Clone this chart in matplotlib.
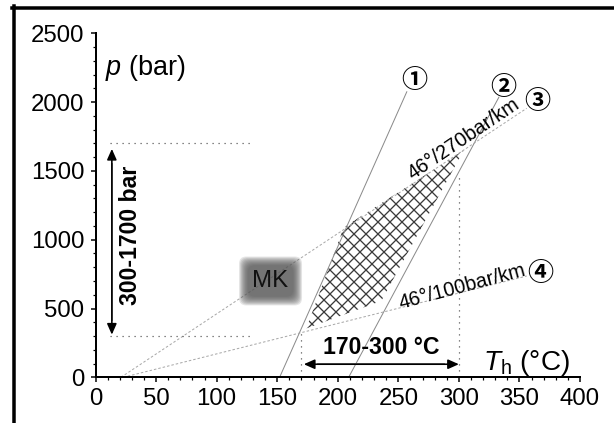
import matplotlib
matplotlib.use("Agg")
import matplotlib.pyplot as plt
from matplotlib.lines import Line2D
from matplotlib.ticker import MultipleLocator

plt.rcParams['font.family'] = ['Liberation Sans', 'DejaVu Sans']
plt.rcParams['mathtext.fontset'] = 'custom'
plt.rcParams['mathtext.rm'] = 'Liberation Sans'
plt.rcParams['mathtext.it'] = 'Liberation Sans:italic'
plt.rcParams['hatch.linewidth'] = 1.3

# isochores / gradients (T in degC, p in bar)
line1_T = [152, 257]
line1_p = [0, 2075]
line2_T = [209, 333]
line2_p = [0, 2035]
line3_T = [21, 356]   # 46 degC / 270 bar/km
line3_p = [0, 1955]
line4_T = [23, 356]   # 46 degC / 100 bar/km
line4_p = [0, 736]

# hatched field
hatch_T = [174, 205, 304, 236]
hatch_p = [355, 1090, 1650, 555]

# range markers
p_range = [300, 1700]
T_range = [170, 300]
labels_circ = ['①', '②', '③', '④']
circ_T = [263, 337, 365, 367]
circ_p = [2160, 2108, 2003, 752]

x_ticks = list(range(0, 401, 50))
y_ticks = list(range(0, 2501, 500))

fig = plt.figure(figsize=(614 / 72, 423 / 72), dpi=72)
ax = fig.add_axes([95.5 / 614, 45.7 / 423, 484.5 / 614, 344 / 423])

ax.plot(line1_T, line1_p, color='#8a8a8a', lw=1.0)
ax.plot(line2_T, line2_p, color='#8a8a8a', lw=1.0)
ax.plot(line3_T, line3_p, color='#a8a8a8', lw=1.0, dashes=(2.5, 2))
ax.plot(line4_T, line4_p, color='#a8a8a8', lw=1.0, dashes=(2.5, 2))

ax.fill(hatch_T, hatch_p, facecolor='none', edgecolor='#3a3a3a', hatch='xx', linewidth=0)

# dotted guide lines
dot = (0, (1, 4))
ax.plot([12, 130], [p_range[1]] * 2, color='#555555', lw=1.2, ls=dot)
ax.plot([12, 128], [p_range[0]] * 2, color='#555555', lw=1.2, ls=dot)
ax.plot([T_range[0]] * 2, [0, 330], color='#555555', lw=1.2, ls=dot)
ax.plot([T_range[1]] * 2, [0, 1480], color='#555555', lw=1.2, ls=dot)

# arrows
ax.annotate('', xy=(13.5, p_range[1] - 40), xytext=(13.5, p_range[0] + 10),
            arrowprops=dict(arrowstyle='<|-|>,head_length=0.9,head_width=0.4',
                            color='black', lw=1.6, shrinkA=0, shrinkB=0))
ax.plot([13.5, 13.5], [p_range[0] + 120, p_range[1] - 150], color='#808080', lw=1.8)
ax.annotate('', xy=(T_range[1], 95), xytext=(T_range[0] + 2, 95),
            arrowprops=dict(arrowstyle='<|-|>,head_length=0.9,head_width=0.4',
                            color='black', lw=1.6, shrinkA=0, shrinkB=0))
ax.plot([T_range[0] + 14, T_range[1] - 12], [95, 95], color='#808080', lw=1.8)

ax.text(29, 1030, '300-1700 bar', rotation=90, ha='center', va='center',
        fontsize=23, fontweight='bold')
ax.text(236, 172, '170-300 °C', ha='center', va='baseline', fontsize=23, fontweight='bold')

ax.text(304, 1730, '46°/270bar/km', rotation=34, ha='center', va='center',
        fontsize=20, rotation_mode='anchor')
ax.text(303, 660, '46°/100bar/km', rotation=15, ha='center', va='center',
        fontsize=20, rotation_mode='anchor')

for lab, t, p in zip(labels_circ, circ_T, circ_p):
    ax.text(t, p, lab, ha='center', va='center', fontsize=26, fontweight='bold',
            family=['Noto Sans CJK JP', 'DejaVu Sans'])

# blurred grey MK box
for i in range(10):
    ax.text(144.5, 700, 'MK', ha='center', va='center', fontsize=24, color='none',
            zorder=5,
            bbox=dict(boxstyle='round,pad=%.2f,rounding_size=0.3' % (0.56 - i * 0.04),
                      fc='#555555', ec='none', alpha=0.15))
ax.text(144.5, 700, 'MK', ha='center', va='center', fontsize=24, color='#111111', zorder=6)

ax.text(8, 2195, '$p$ (bar)', ha='left', va='baseline', fontsize=27)
ax.text(320, 55, r'$T_\mathrm{h}$ (°C)', ha='left', va='baseline', fontsize=28)

ax.set_xlim(0, 400)
ax.set_ylim(0, 2500)
ax.set_xticks(x_ticks)
ax.set_yticks(y_ticks)
ax.xaxis.set_minor_locator(MultipleLocator(10))
ax.yaxis.set_minor_locator(MultipleLocator(100))
for s in ['top', 'right']:
    ax.spines[s].set_visible(False)
for s in ['left', 'bottom']:
    ax.spines[s].set_linewidth(2)
ax.tick_params(which='major', direction='out', length=5, width=1.5, labelsize=24, pad=6)
ax.tick_params(which='minor', direction='out', length=3, width=1.2)

# outer frame of the original figure
fig.add_artist(Line2D([13.5 / 614, 13.5 / 614], [0, 1 - 6 / 423], color='black', lw=3.5))
fig.add_artist(Line2D([12 / 614, 1], [1 - 7.5 / 423, 1 - 7.5 / 423], color='black', lw=3.5))

fig.savefig('out.png', dpi=72)
